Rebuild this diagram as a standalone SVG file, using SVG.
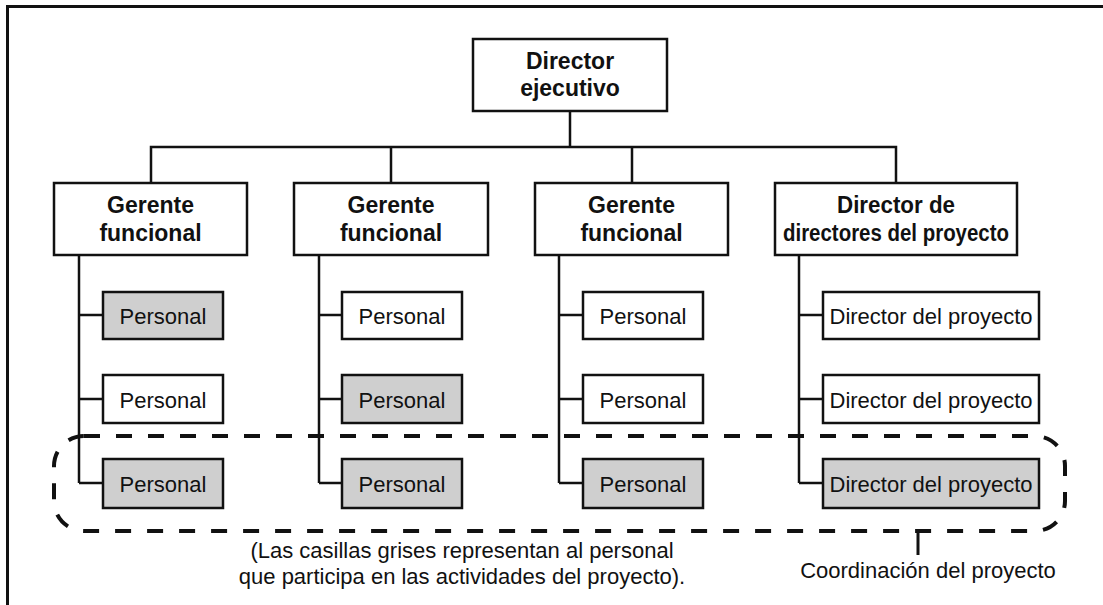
<svg xmlns="http://www.w3.org/2000/svg" width="1103" height="605" viewBox="0 0 1103 605">
<style>
.box{fill:#fff;stroke:#111;stroke-width:2.5}
.gray{fill:#cfcfcf;stroke:#111;stroke-width:2.5}
.ln{fill:none;stroke:#111;stroke-width:2.5}
.b{font-family:"Liberation Sans",Arial,sans-serif;font-weight:bold;font-size:23px;fill:#111;text-anchor:middle}
.t{font-family:"Liberation Sans",Arial,sans-serif;font-size:22px;fill:#111;text-anchor:middle}
.dash{fill:none;stroke:#111;stroke-width:4;stroke-dasharray:16 16}
</style>
<rect width="1103" height="605" fill="#fff"/>
<path d="M7.5 605 V6.5 H1103" fill="none" stroke="#111" stroke-width="3"/>
<g id="connectors">
<path class="ln" d="M570 111 V147 M151 183 V147 H896 V183 M391 147 V183 M632 147 V183"/>
<path class="ln" d="M79 255 V483 M79 315 H103 M79 399 H103 M79 483 H103"/>
<path class="ln" d="M319 255 V483 M319 315 H342 M319 399 H342 M319 483 H342"/>
<path class="ln" d="M559 255 V483 M559 315 H583 M559 399 H583 M559 483 H583"/>
<path class="ln" d="M799 255 V483 M799 315 H823 M799 399 H823 M799 483 H823"/>
</g>
<g id="exec"><rect class="box" x="473" y="39" width="194" height="72"/><text class="b" x="570" y="69">Director</text><text class="b" x="570" y="96">ejecutivo</text></g>
<g id="gf1"><rect class="box" x="54" y="183" width="193" height="72"/><text class="b" x="150.5" y="213">Gerente</text><text class="b" x="150.5" y="241">funcional</text></g>
<g id="gf2"><rect class="box" x="294" y="183" width="194" height="72"/><text class="b" x="391" y="213">Gerente</text><text class="b" x="391" y="241">funcional</text></g>
<g id="gf3"><rect class="box" x="535" y="183" width="193" height="72"/><text class="b" x="631.5" y="213">Gerente</text><text class="b" x="631.5" y="241">funcional</text></g>
<g id="dd"><rect class="box" x="775" y="183" width="242" height="72"/><text class="b" x="896" y="213" textLength="118" lengthAdjust="spacingAndGlyphs">Director de</text><text class="b" x="896" y="241" textLength="226" lengthAdjust="spacingAndGlyphs">directores del proyecto</text></g>
<g id="p11"><rect class="gray" x="103" y="292" width="120" height="47"/><text class="t" x="163" y="324">Personal</text></g>
<g id="p12"><rect class="box" x="103" y="375" width="120" height="48"/><text class="t" x="163" y="408">Personal</text></g>
<g id="p13"><rect class="gray" x="103" y="459" width="120" height="49"/><text class="t" x="163" y="492">Personal</text></g>
<g id="p21"><rect class="box" x="342" y="292" width="120" height="47"/><text class="t" x="402" y="324">Personal</text></g>
<g id="p22"><rect class="gray" x="342" y="375" width="120" height="48"/><text class="t" x="402" y="408">Personal</text></g>
<g id="p23"><rect class="gray" x="342" y="459" width="120" height="49"/><text class="t" x="402" y="492">Personal</text></g>
<g id="p31"><rect class="box" x="583" y="292" width="120" height="47"/><text class="t" x="643" y="324">Personal</text></g>
<g id="p32"><rect class="box" x="583" y="375" width="120" height="48"/><text class="t" x="643" y="408">Personal</text></g>
<g id="p33"><rect class="gray" x="583" y="459" width="120" height="49"/><text class="t" x="643" y="492">Personal</text></g>
<g id="d1"><rect class="box" x="823" y="292" width="216" height="47"/><text class="t" x="931" y="324">Director del proyecto</text></g>
<g id="d2"><rect class="box" x="823" y="375" width="216" height="48"/><text class="t" x="931" y="408">Director del proyecto</text></g>
<g id="d3"><rect class="gray" x="823" y="459" width="216" height="49"/><text class="t" x="931" y="492">Director del proyecto</text></g>
<g id="coord">
<rect class="dash" x="54" y="436" width="1011" height="95" rx="30" ry="30"/>
<path d="M918 531 V555" stroke="#111" stroke-width="3"/>
<text class="t" x="928" y="578">Coordinación del proyecto</text>
</g>
<g id="note">
<text class="t" x="462" y="558">(Las casillas grises representan al personal</text>
<text class="t" x="462" y="584">que participa en las actividades del proyecto).</text>
</g>
</svg>
